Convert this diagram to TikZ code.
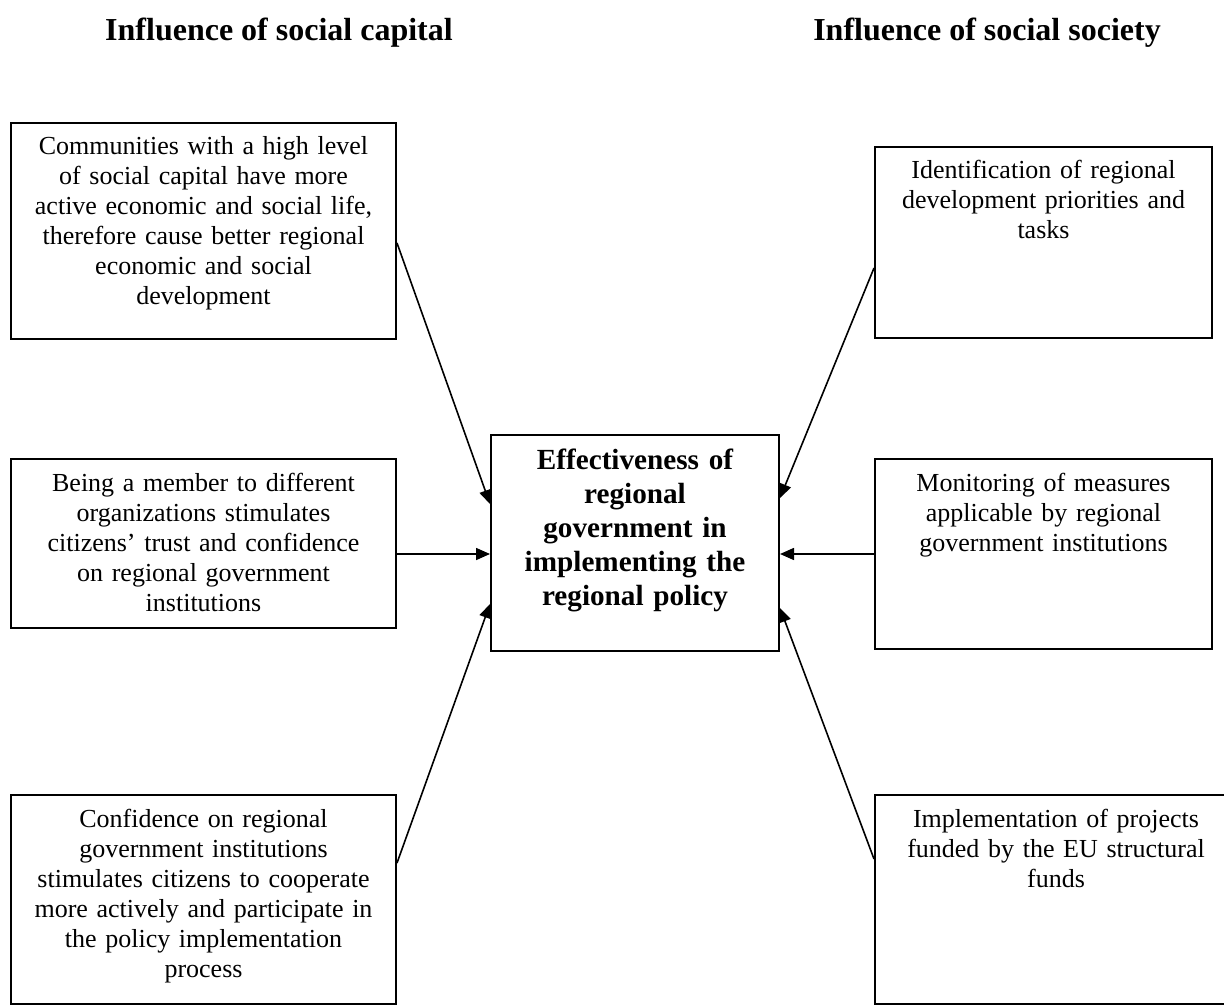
\documentclass[tikz,border=0pt]{standalone}
\usepackage{fontspec}
\setmainfont{Liberation Serif}
\usetikzlibrary{arrows.meta}

\tikzset{
  factor/.style={shape=rectangle,draw=black,line width=1pt,align=center,anchor=north west,
    inner xsep=6pt,inner ysep=6pt,text height=10pt,font=\fontsize{13}{15}\selectfont},
  effect/.style={factor,text height=11pt,font=\fontsize{14.6}{17}\selectfont\bfseries},
  heading/.style={anchor=base,font=\fontsize{16}{19}\selectfont\bfseries},
  influence/.style={-{Triangle[length=7pt,width=6pt]},line width=0.8pt},
}

\begin{document}
\begin{tikzpicture}[x=0.5pt,y=-0.5pt]
        \useasboundingbox (0,0) rectangle (1224,1005);
        \node[heading] (capital) at (279,41) {Influence of social capital};
        \node[heading] (society) at (987,41) {Influence of social society};

        \node[factor,text width=180.5pt,text depth=86pt] (commun) at (10,122) {Communities with a high level\\ of social capital have more\\ active economic and social life,\\ therefore cause better regional\\ economic and social\\ development};
        \node[factor,text width=180.5pt,text depth=62.5pt] (member) at (10,458) {Being a member to different\\ organizations stimulates\\ citizens' trust and confidence\\ on regional government\\ institutions};
        \node[factor,text width=180.5pt,text depth=82.5pt] (confid) at (10,794) {Confidence on regional\\ government institutions\\ stimulates citizens to cooperate\\ more actively and participate in\\ the policy implementation\\ process};

        \node[effect,text width=132pt,text depth=85pt] (effect) at (490,434) {Effectiveness of\\ regional\\ government in\\ implementing the\\ regional policy};

        \node[factor,text width=156.5pt,text depth=73.5pt] (ident) at (874,146) {Identification of regional\\ development priorities and\\ tasks};
        \node[factor,text width=156.5pt,text depth=73pt] (monit) at (874,458) {Monitoring of measures\\ applicable by regional\\ government institutions};
        \node[factor,text width=169pt,text depth=82.5pt] (funds) at (874,794) {Implementation of projects\\ funded by the EU structural\\ funds};

        \draw[influence] ([yshift=-6pt]commun.east) -- ([yshift=19.5pt]effect.west);
        \draw[influence] ([yshift=-5.25pt]member.east) -- ([yshift=-5.5pt]effect.west);
        \draw[influence] ([yshift=18.25pt]confid.east) -- ([yshift=-30.5pt]effect.west);
        \draw[influence] ([yshift=-12.75pt]ident.west) -- ([yshift=22.5pt]effect.east);
        \draw[influence] (monit.west) -- ([yshift=-5.5pt]effect.east);
        \draw[influence] ([yshift=20.25pt]funds.west) -- ([yshift=-32.5pt]effect.east);
    \end{tikzpicture}
\end{document}
